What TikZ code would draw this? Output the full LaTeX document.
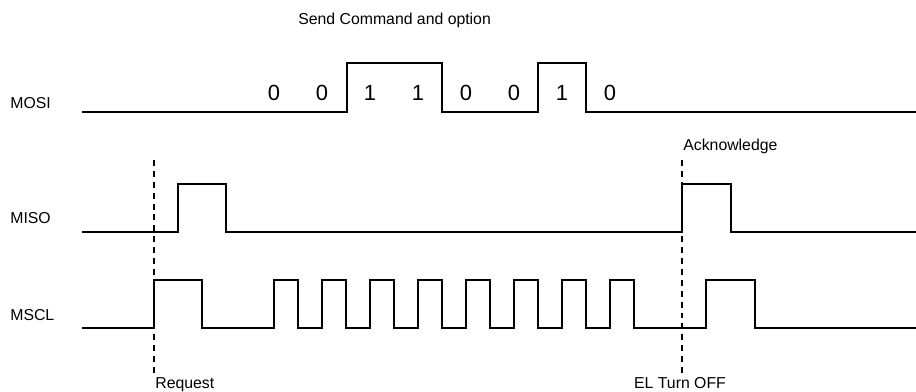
\documentclass[tikz,border=0pt]{standalone}
\usepackage{fontspec}
\setmainfont{Liberation Sans}
\usetikzlibrary{positioning}

\begin{document}
\begin{tikzpicture}[x=0.02cm, y=-0.02cm,
    sig/.style={line width=1.15pt, line join=miter},
    evline/.style={line width=1.4pt, dash pattern=on 3.4pt off 2.8pt},
    lbl/.style={font=\fontsize{9}{11}\selectfont, inner sep=0pt},
    bit/.style={font=\fontsize{12.5}{14}\selectfont, inner sep=0pt, anchor=base}
]
\useasboundingbox (0,0) rectangle (916,392);

\node[lbl, anchor=base west] (title) at (298,25) {Send Command and option};
\node[lbl, anchor=base west] (mosi) at (10,108) {MOSI};
\node[lbl, anchor=base west] (miso) at (10,223) {MISO};
\node[lbl, anchor=base west] (mscl) at (10,320) {MSCL};

\foreach \b [count=\i] in {0,0,1,1,0,0,1,0}
    \node[bit] (bit\i) at (274+48*\i-48,100) {\b};

\draw[sig] (82,112) -| (347,63) -| (442,112) -| (538,63) -| (586,112) -- (916,112);
\draw[sig] (82,232) -| (178,184) -| (226,232) -| (682,184) -| (731,232) -- (916,232);
\draw[sig] (82,328) -| (154,280) -| (202,328)
    \foreach \t in {274,322,...,610} { -| (\t,280) -| (\t+24,328) }
    -| (706,280) -| (755,328) -- (916,328);

\coordinate (reqtop) at (154,160);
\coordinate (reqbot) at (154,377);
\coordinate (acktop) at (682,160);
\coordinate (ackbot) at (682,377);
\draw[evline] (reqtop) -- (reqbot);
\draw[evline] (acktop) -- (ackbot);

\node[lbl, anchor=base west] (ack) at (683,150) {Acknowledge};
\node[lbl, anchor=base west] (req) at (155,388) {Request};
\node[lbl, anchor=base] (eloff) at (680,388) {EL Turn OFF};
\end{tikzpicture}
\end{document}
